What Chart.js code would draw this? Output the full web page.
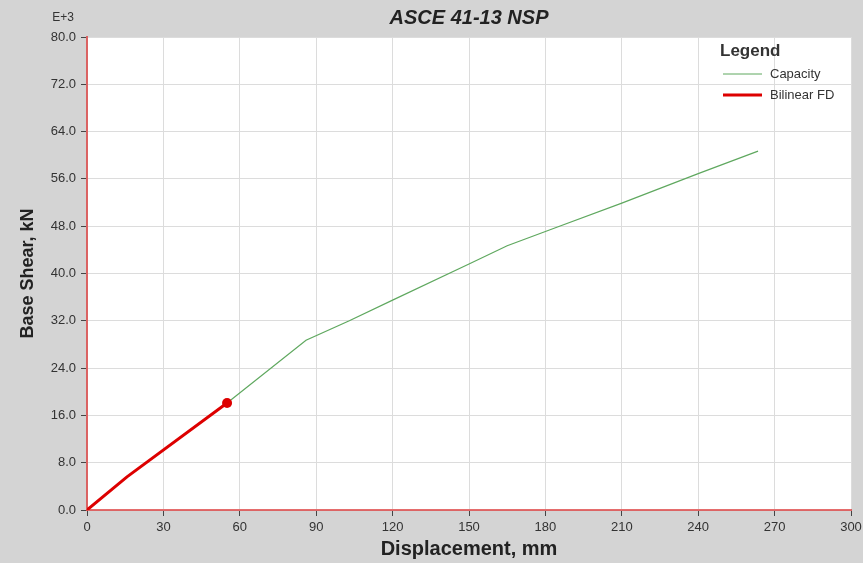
<!DOCTYPE html>
<html>
<head>
<meta charset="utf-8">
<script src="https://cdn.jsdelivr.net/npm/chart.js@4.4.0/dist/chart.umd.min.js"></script>
<style>
  html, body { margin: 0; padding: 0; overflow: hidden; background: #d4d4d4; }
  canvas { display: block; }
</style>
</head>
<body>
<canvas id="nspChart" width="863" height="563"></canvas>
<script>
// Capacity curve (displacement mm, base shear E+3 kN)
var capDisp  = [0, 15.7, 55, 86, 103, 120, 150, 165, 185, 210, 240, 263.5];
var capShear = [0, 5.6, 18.1, 28.7, 32.0, 35.5, 41.6, 44.7, 47.9, 51.9, 56.9, 60.7];

// Bilinear force-displacement
var bfdDisp  = [0, 15.7, 55];
var bfdShear = [0, 5.6, 18.1];

var seriesNames = ["Capacity", "Bilinear FD"];
var xTicks = [0, 30, 60, 90, 120, 150, 180, 210, 240, 270, 300];
var yTicks = [0, 8, 16, 24, 32, 40, 48, 56, 64, 72, 80];

function toPoints(xs, ys) {
  return xs.map(function (x, i) { return { x: x, y: ys[i] }; });
}

Chart.defaults.font.family = "'Liberation Sans', Arial, sans-serif";
Chart.defaults.color = "#333";

var greenCol = "#5fa85f";
var redCol = "#dd0000";

// white plot area, title, E+3 label and legend
var decorations = {
  id: "decorations",
  beforeDraw: function (chart) {
    var a = chart.chartArea, ctx = chart.ctx;
    ctx.save();
    ctx.fillStyle = "#ffffff";
    ctx.fillRect(a.left, a.top, a.right - a.left, a.bottom - a.top);
    ctx.restore();
  },
  afterDraw: function (chart) {
    var a = chart.chartArea, ctx = chart.ctx;
    ctx.save();
    ctx.fillStyle = "#222";
    ctx.textBaseline = "middle";
    ctx.textAlign = "center";
    ctx.font = "italic bold 20px 'Liberation Sans', Arial, sans-serif";
    ctx.fillText("ASCE 41-13 NSP", (a.left + a.right) / 2, 18);

    ctx.textAlign = "right";
    ctx.font = "12px 'Liberation Sans', Arial, sans-serif";
    ctx.fillStyle = "#333";
    ctx.fillText("E+3", 74, 18);

    // legend
    ctx.textAlign = "left";
    ctx.fillStyle = "#333";
    ctx.font = "bold 17px 'Liberation Sans', Arial, sans-serif";
    ctx.fillText("Legend", 720, 51);
    ctx.font = "13px 'Liberation Sans', Arial, sans-serif";
    ctx.strokeStyle = greenCol;
    ctx.lineWidth = 1;
    ctx.beginPath(); ctx.moveTo(723, 74); ctx.lineTo(762, 74); ctx.stroke();
    ctx.fillText(seriesNames[0], 770, 74);
    ctx.strokeStyle = redCol;
    ctx.lineWidth = 3;
    ctx.beginPath(); ctx.moveTo(723, 95); ctx.lineTo(762, 95); ctx.stroke();
    ctx.fillText(seriesNames[1], 770, 95);
    ctx.restore();
  }
};

var ctx = document.getElementById("nspChart").getContext("2d");
new Chart(ctx, {
  type: "scatter",
  data: {
    datasets: [
      {
        label: seriesNames[1],
        data: toPoints(bfdDisp, bfdShear),
        showLine: true,
        borderColor: redCol,
        backgroundColor: redCol,
        borderWidth: 3,
        order: 0,
        pointRadius: function (c) { return c.dataIndex === bfdDisp.length - 1 ? 5 : 0; },
        pointBorderWidth: 0
      },
      {
        label: seriesNames[0],
        data: toPoints(capDisp, capShear),
        showLine: true,
        borderColor: greenCol,
        backgroundColor: greenCol,
        borderWidth: 1.2,
        order: 1,
        pointRadius: 0
      }
    ]
  },
  options: {
    responsive: false,
    animation: false,
    layout: { padding: { top: 37, right: 0, left: 0, bottom: 0 } },
    plugins: {
      legend: { display: false },
      tooltip: { enabled: false },
      title: { display: false }
    },
    scales: {
      x: {
        type: "linear",
        min: 0,
        max: 300,
        afterFit: function (s) { s.height = 53; s.paddingRight = 12; },
        afterBuildTicks: function (s) { s.ticks = xTicks.map(function (v) { return { value: v }; }); },
        ticks: { font: { size: 13 }, padding: 4, color: "#333", maxRotation: 0 },
        grid: { color: "#dcdcdc", tickColor: "#444", tickLength: 6 },
        border: { color: "rgba(220,60,60,0.75)", width: 2 },
        title: {
          display: true,
          text: "Displacement, mm",
          color: "#222",
          font: { size: 20, weight: "bold" },
          padding: { top: 0, bottom: 2 }
        }
      },
      y: {
        type: "linear",
        min: 0,
        max: 80,
        afterFit: function (s) { s.width = 87; },
        afterBuildTicks: function (s) { s.ticks = yTicks.map(function (v) { return { value: v }; }); },
        ticks: {
          font: { size: 13 },
          padding: 5,
          color: "#333",
          callback: function (v) { return v.toFixed(1); }
        },
        grid: { color: "#dcdcdc", tickColor: "#444", tickLength: 6 },
        border: { color: "rgba(220,60,60,0.75)", width: 2 },
        title: {
          display: true,
          text: "Base Shear, kN",
          color: "#222",
          font: { size: 18, weight: "bold" },
          padding: { top: 17, bottom: 0 }
        }
      }
    }
  },
  plugins: [decorations]
});
</script>
</body>
</html>
